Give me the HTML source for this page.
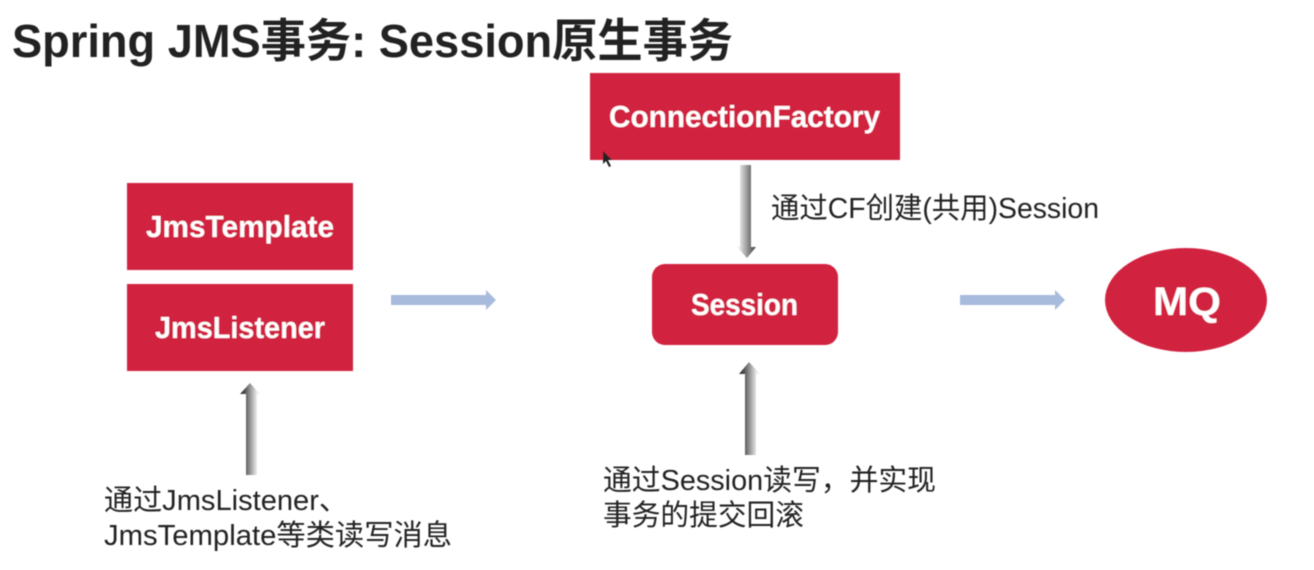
<!DOCTYPE html>
<html>
<head>
<meta charset="utf-8">
<style>
html,body{margin:0;padding:0;background:#fff;width:1314px;height:570px;overflow:hidden}
svg{display:block}
text{font-family:"Liberation Sans","Noto Sans CJK SC",sans-serif}
.t{font-size:46px;font-weight:bold;fill:#222}
.b{font-size:31px;font-weight:bold;fill:#fff}
.l{font-size:29px;fill:#222}
</style>
</head>
<body>
<svg width="1314" height="570" viewBox="0 0 1314 570" xmlns="http://www.w3.org/2000/svg">
<defs>
<linearGradient id="d"><stop offset="0.1" stop-color="#eeeeee"/><stop offset="0.9" stop-color="#505050"/></linearGradient>
<linearGradient id="u"><stop offset="0.15" stop-color="#3a3a3a"/><stop offset="0.85" stop-color="#eeeeee"/></linearGradient>
<filter id="s" x="-5%" y="-5%" width="110%" height="110%"><feGaussianBlur stdDeviation="0.4"/></filter>
</defs>
<g filter="url(#s)">
<text class="t" x="12" y="57" textLength="721" lengthAdjust="spacingAndGlyphs">Spring JMS事务: Session原生事务</text>

<rect x="590" y="73" width="310" height="87" fill="#d1233f"/>
<rect x="127" y="183" width="226" height="87" fill="#d1233f"/>
<rect x="127" y="284" width="226" height="87" fill="#d1233f"/>
<rect x="652" y="264" width="186" height="81" rx="13" fill="#d1233f"/>
<ellipse cx="1186" cy="300" rx="81" ry="52" fill="#d1233f"/>

<text class="b" x="609" y="127" textLength="271" lengthAdjust="spacingAndGlyphs">ConnectionFactory</text>
<text class="b" x="146" y="237" textLength="188" lengthAdjust="spacingAndGlyphs">JmsTemplate</text>
<text class="b" x="155" y="338" textLength="170" lengthAdjust="spacingAndGlyphs">JmsListener</text>
<text class="b" x="691" y="315" textLength="107" lengthAdjust="spacingAndGlyphs">Session</text>
<text class="b" x="1153" y="315" textLength="68" lengthAdjust="spacingAndGlyphs" style="font-size:40px">MQ</text>

<path d="M391 295H486V290L496 300L486 310V305H391Z" fill="#a9bbdc"/>
<path d="M960 295H1055V290L1065 300L1055 310V305H960Z" fill="#a9bbdc"/>

<path d="M740 165H751V247H756L747 258L737 247H740Z" fill="url(#d)"/>
<path d="M246 475V394H240L250 383L260 394H257V475Z" fill="url(#u)"/>
<path d="M745 455V374H739L749 362L760 374H756V455Z" fill="url(#u)"/>

<path d="M603 151V164L606 161L609 167L611 166L608 160L612 160Z" fill="#222"/>

<text class="l" x="771" y="218" textLength="328" lengthAdjust="spacingAndGlyphs">通过CF创建(共用)Session</text>
<text class="l" x="104" y="510" textLength="244" lengthAdjust="spacingAndGlyphs">通过JmsListener、</text>
<text class="l" x="104" y="545" textLength="348" lengthAdjust="spacingAndGlyphs">JmsTemplate等类读写消息</text>
<text class="l" x="603" y="490" textLength="333" lengthAdjust="spacingAndGlyphs">通过Session读写，并实现</text>
<text class="l" x="603" y="525" textLength="201" lengthAdjust="spacingAndGlyphs">事务的提交回滚</text>
</g>
</svg>
</body>
</html>
